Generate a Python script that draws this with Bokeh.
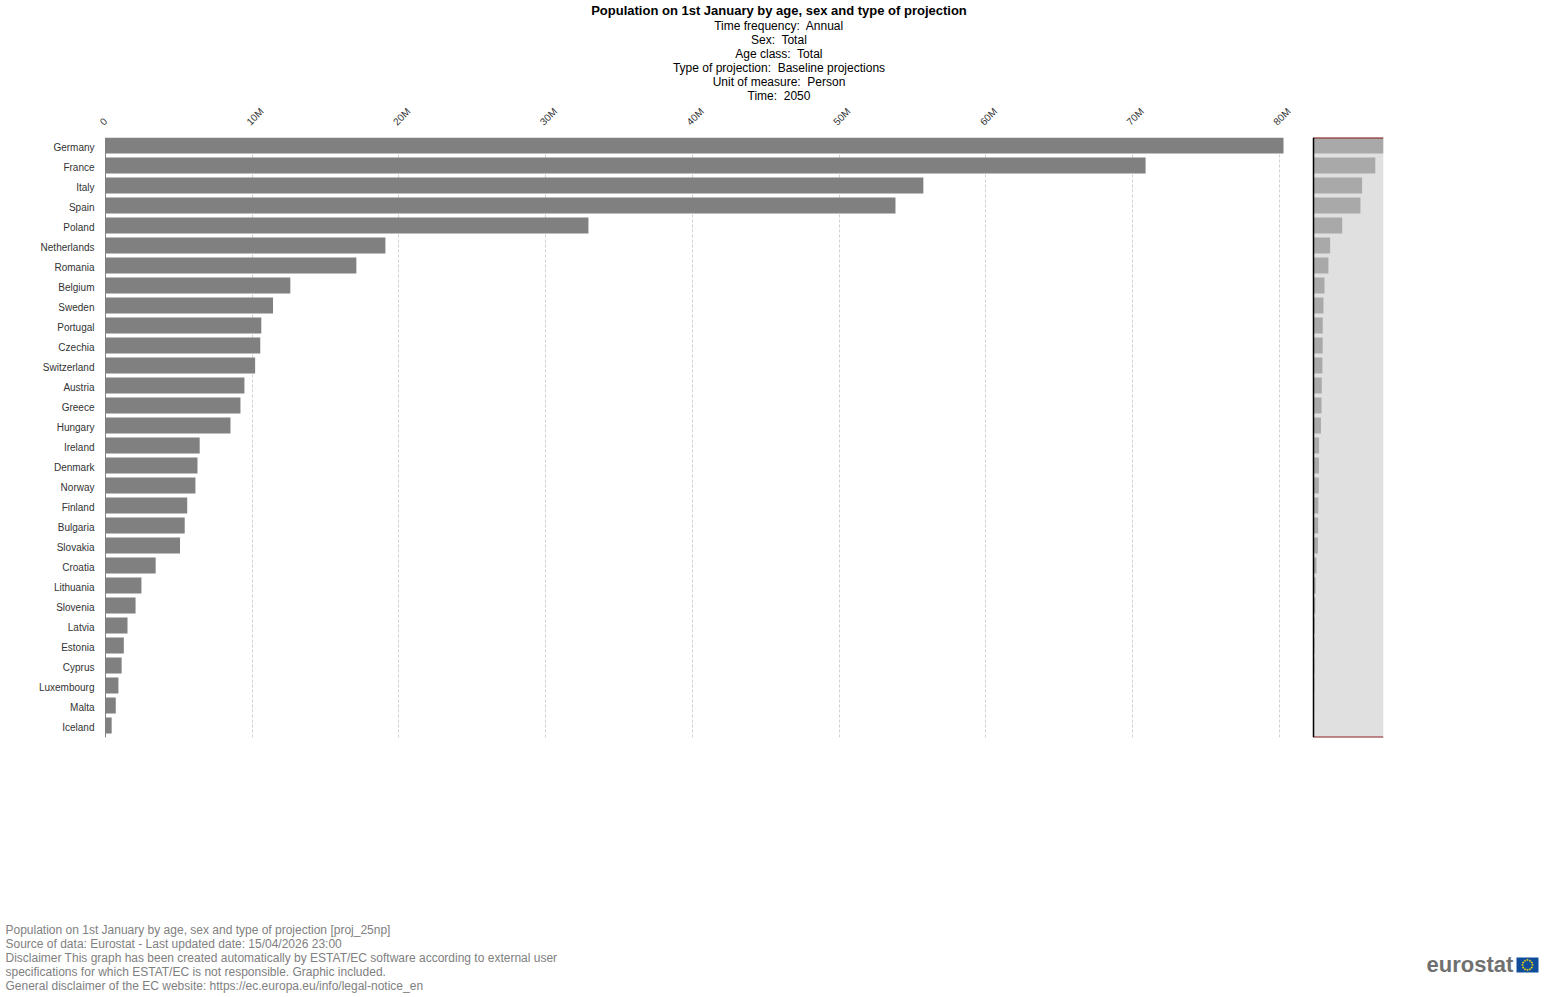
import math
from bokeh.plotting import figure
from bokeh.layouts import column
from bokeh.models import (Range1d, FactorRange, ColumnDataSource, FixedTicker, BoxAnnotation, Span, LinearAxis, Grid)
from bokeh.transform import dodge
from bokeh.core.properties import value
from bokeh.embed import file_html
from bokeh.resources import INLINE

countries = ["Germany","France","Italy","Spain","Poland","Netherlands","Romania","Belgium","Sweden","Portugal",
             "Czechia","Switzerland","Austria","Greece","Hungary","Ireland","Denmark","Norway","Finland","Bulgaria",
             "Slovakia","Croatia","Lithuania","Slovenia","Latvia","Estonia","Cyprus","Luxembourg","Malta","Iceland"]
population_m = [80.3,70.9,55.75,53.85,32.92,19.08,17.1,12.6,11.42,10.62,
                10.55,10.2,9.47,9.2,8.52,6.42,6.27,6.13,5.57,5.4,
                5.08,3.42,2.45,2.05,1.5,1.25,1.1,0.88,0.7,0.42]
tick_values_m = [0,10,20,30,40,50,60,70,80]
tick_labels = ["0","10M","20M","30M","40M","50M","60M","70M","80M"]

title_main = "Population on 1st January by age, sex and type of projection"
subtitles = ["Time frequency:\u00a0 Annual","Sex:\u00a0 Total","Age class:\u00a0 Total",
             "Type of projection:\u00a0 Baseline projections","Unit of measure:\u00a0 Person","Time:\u00a0 2050"]
footer = ["Population on 1st January by age, sex and type of projection [proj_25np]",
          "Source of data: Eurostat - Last updated date: 15/04/2026 23:00",
          "Disclaimer This graph has been created automatically by ESTAT/EC software according to external user",
          "specifications for which ESTAT/EC is not responsible. Graphic included.",
          "General disclaimer of the EC website: https://ec.europa.eu/info/legal-notice_en"]

FONT = value("Liberation Sans")
W = 1550
HEAD_H, OVERLAP, MAIN_H, FOOT_H = 104, 10, 646, 256
LABEL_SHIFT_PX = 4                       # tick labels sit a little left of their gridlines
FL, FT, FW, FH = 105 - LABEL_SHIFT_PX, 43, 1278 + LABEL_SHIFT_PX, 600   # frame within the main figure
PX_PER_M = 14.67
NAV_LEFT, NAV_W = 1313 - FL, 70          # navigator panel inside the frame


def blank(height, top_px):
    """A figure whose data coordinates are page pixels, used for header and footer texts."""
    f = figure(width=W, height=height, output_backend="svg", toolbar_location=None,
               x_range=Range1d(0, W), y_range=Range1d(top_px + height, top_px),
               x_axis_type=None, y_axis_type=None, min_border=0, frame_align=False)
    f.grid.visible = False
    f.outline_line_color = None
    return f


# Header ---------------------------------------------------------------
head = blank(HEAD_H, 0)
head.text(x=[778.5], y=[10], text=[title_main], text_font=FONT, text_font_size="13px", text_font_style="bold",
          text_align="center", text_baseline="middle", text_color="black")
head.text(x=[778.5] * len(subtitles), y=[25.5 + 14 * i for i in range(len(subtitles))], text=subtitles,
          text_font=FONT, text_font_size="12px", text_align="center", text_baseline="middle", text_color="black")

# Main chart -----------------------------------------------------------
values = [v * 1e6 for v in population_m]
src = ColumnDataSource(dict(cat=countries, v=values))

nav_max = max(values)
nav_scale = NAV_W / nav_max
nav_range = Range1d(-NAV_LEFT / nav_scale, (FW - NAV_LEFT) / nav_scale)
x_span = FW / PX_PER_M * 1e6
x_shift = LABEL_SHIFT_PX / PX_PER_M * 1e6

p = figure(width=W, height=MAIN_H, output_backend="svg", toolbar_location=None,
           x_range=Range1d(-x_shift, x_span - x_shift),
           y_range=FactorRange(factors=countries[::-1], range_padding=0, factor_padding=0),
           x_axis_location=None, min_border_left=FL, min_border_top=FT,
           min_border_right=W - FL - FW, min_border_bottom=MAIN_H - FT - FH,
           frame_align=False, margin=(-OVERLAP, 0, 0, 0), border_fill_color=None)
p.extra_x_ranges = {"nav": nav_range, "labels": Range1d(0, x_span)}
p.outline_line_color = None

tick_positions = [t * 1e6 for t in tick_values_m]
ax = LinearAxis(x_range_name="labels", ticker=FixedTicker(ticks=tick_positions))
ax.major_label_overrides = {t * 1000000: l for t, l in zip(tick_values_m, tick_labels)}
ax.major_label_orientation = 0.785
ax.major_label_text_font = "Liberation Sans"
ax.major_label_text_font_size = "10px"
ax.major_label_text_color = "#333333"
ax.axis_line_color = None
ax.major_tick_line_color = None
ax.minor_tick_line_color = None
ax.major_tick_out = 0
ax.major_tick_in = 0
ax.major_label_standoff = 14
p.add_layout(ax, "above")

ay = p.yaxis[0]
ay.major_label_text_font = "Liberation Sans"
ay.major_label_text_font_size = "10px"
ay.major_label_text_color = "#333333"
ay.axis_line_color = None
ay.major_tick_line_color = None
ay.minor_tick_line_color = None
ay.major_tick_out = 0
ay.major_tick_in = 0
ay.major_label_standoff = 7

p.grid.visible = False
p.add_layout(Grid(dimension=0, ticker=FixedTicker(ticks=tick_positions), grid_line_color="#d0d0d0",
                  grid_line_dash="3 2", grid_line_width=1))
p.add_layout(Span(location=0, dimension="height", line_color="#808080", line_width=1))

p.hbar(y=dodge("cat", 0.1, range=p.y_range), right="v", left=0, height=0.8, source=src,
       fill_color="#808080", line_color=None)

# Navigator panel
p.add_layout(BoxAnnotation(left=0, right=nav_max, x_range_name="nav", fill_color="#e0e0e0",
                           fill_alpha=1, line_color=None, level="underlay"))
p.hbar(y=dodge("cat", 0.1, range=p.y_range), right="v", left=0, height=0.8, source=src,
       x_range_name="nav", fill_color="#a9a9a9", line_color=None)
for cat, off in ((countries[0], 0.5), (countries[-1], -0.5)):
    edge = ColumnDataSource(dict(c=[cat], x0=[0], x1=[nav_max]))
    p.segment(x0="x0", x1="x1", y0=dodge("c", off, range=p.y_range), y1=dodge("c", off, range=p.y_range),
              source=edge, x_range_name="nav", line_color="#8b2020", line_width=2)
p.add_layout(Span(location=0, dimension="height", x_range_name="nav", line_color="black", line_width=1.5))

# Footer ---------------------------------------------------------------
foot = blank(FOOT_H, HEAD_H - OVERLAP + MAIN_H)
foot.text(x=[5] * len(footer), y=[929.5 + 14 * i for i in range(len(footer))], text=footer, text_font=FONT,
          text_font_size="12px", text_align="left", text_baseline="middle", text_color="#808080")
foot.text(x=[1426], y=[964], text=["eurostat"], text_font=FONT, text_font_size="22px", text_font_style="bold",
          text_align="left", text_baseline="middle", text_color="#707070")
foot.quad(left=[1516], right=[1538], top=[957], bottom=[972], fill_color="#0f4c9c", line_color=None)
star_x = [1527 + 5 * math.cos(math.radians(a)) for a in range(0, 360, 30)]
star_y = [964.5 + 5 * math.sin(math.radians(a)) for a in range(0, 360, 30)]
foot.scatter(star_x, star_y, marker="star", size=3, fill_color="#ffe000", line_color=None)

page = column(head, p, foot, spacing=0)
open("out.html", "w").write(file_html(page, INLINE))
